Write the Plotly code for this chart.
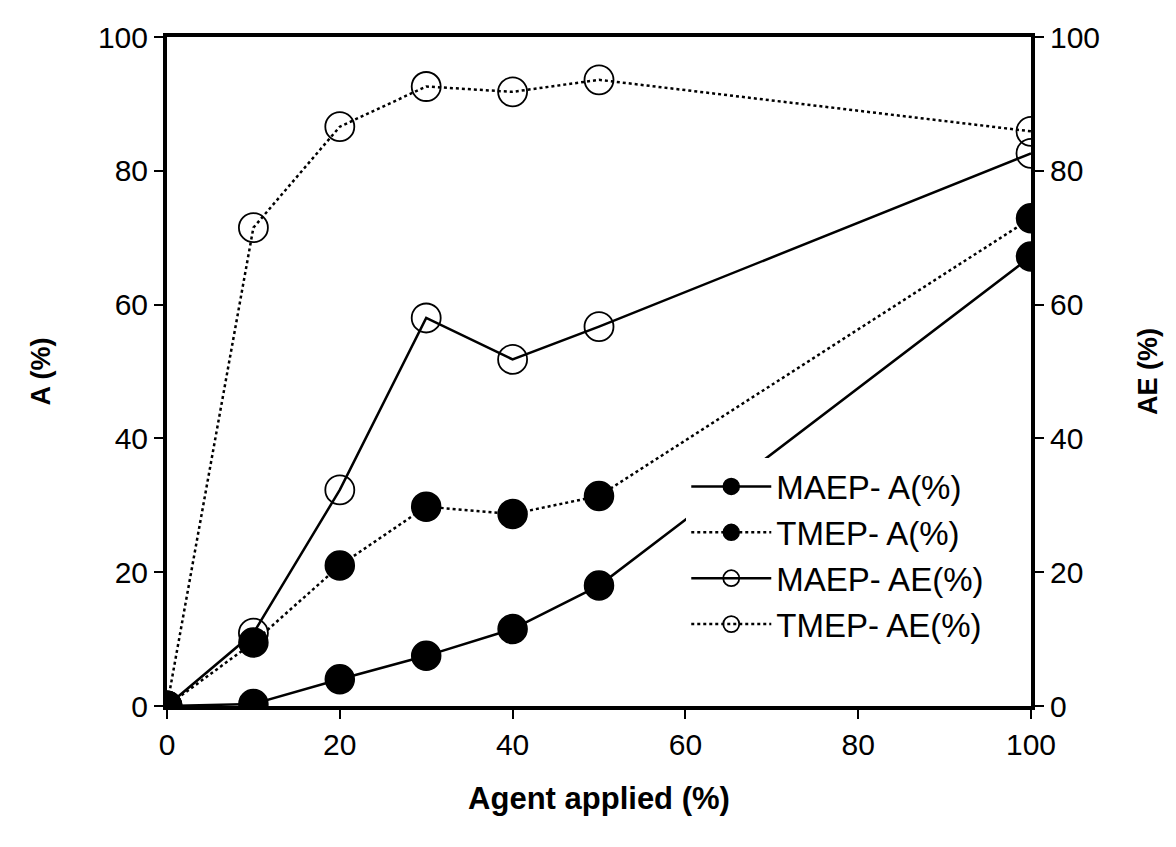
import plotly.graph_objects as go

agent = [0, 10, 20, 30, 40, 50, 100]
maep_a = [0, 0.3, 4.0, 7.5, 11.5, 18.0, 67.2]
tmep_a = [0, 9.5, 21.0, 29.8, 28.7, 31.4, 72.9]
maep_ae = [0, 10.9, 32.3, 58.0, 51.8, 56.7, 82.6]
tmep_ae = [0, 71.5, 86.6, 92.6, 91.8, 93.6, 85.9]
x_ticks = [0, 20, 40, 60, 80, 100]
y_ticks = [0, 20, 40, 60, 80, 100]

FONT = "Arial, Liberation Sans, sans-serif"
fig = go.Figure()

fig.add_trace(go.Scatter(x=agent, y=maep_a, name="MAEP- A(%)", mode="lines+markers",
                         line=dict(color="black", width=2.5, dash="solid"),
                         marker=dict(symbol="circle", size=29, color="black",
                                     line=dict(color="black", width=1.5))))
fig.add_trace(go.Scatter(x=agent, y=tmep_a, name="TMEP- A(%)", mode="lines+markers",
                         line=dict(color="black", width=2.5, dash="dot"),
                         marker=dict(symbol="circle", size=29, color="black",
                                     line=dict(color="black", width=1.5))))
fig.add_trace(go.Scatter(x=agent, y=maep_ae, name="MAEP- AE(%)", mode="lines+markers",
                         yaxis="y2",
                         line=dict(color="black", width=2.5, dash="solid"),
                         marker=dict(symbol="circle-open", size=29, color="black",
                                     line=dict(color="black", width=1.8))))
fig.add_trace(go.Scatter(x=agent, y=tmep_ae, name="TMEP- AE(%)", mode="lines+markers",
                         yaxis="y2",
                         line=dict(color="black", width=2.5, dash="dot"),
                         marker=dict(symbol="circle-open", size=29, color="black",
                                     line=dict(color="black", width=1.8))))

axis_common = dict(showgrid=False, zeroline=False, showline=True, linecolor="black",
                   linewidth=4, ticks="outside", ticklen=9, tickwidth=2, tickcolor="black",
                   tickfont=dict(family=FONT, size=30, color="black"))

fig.update_layout(
    width=1176, height=847,
    paper_bgcolor="white", plot_bgcolor="white",
    margin=dict(l=159, r=153, t=26, b=149),
    font=dict(family=FONT, color="black"),
    xaxis=dict(range=[0, 100], tickvals=x_ticks, mirror=True,
               title=dict(text="<b>Agent applied (%)</b>", font=dict(family=FONT, size=31),
                          standoff=28),
               **axis_common),
    yaxis=dict(range=[0, 100], tickvals=y_ticks,
               title=dict(text="<b>A (%)</b>", font=dict(family=FONT, size=27), standoff=40),
               **axis_common),
    yaxis2=dict(range=[0, 100], tickvals=y_ticks, overlaying="y", side="right",
                title=dict(text="<b>AE (%)</b>", font=dict(family=FONT, size=27), standoff=40),
                **axis_common),
    legend=dict(x=0.601, y=0.37, xanchor="left", yanchor="top",
                bgcolor="white", borderwidth=0,
                font=dict(family=FONT, size=33, color="black"),
                itemwidth=80, tracegroupgap=0),
    showlegend=True,
)

fig.write_html("out.html")
